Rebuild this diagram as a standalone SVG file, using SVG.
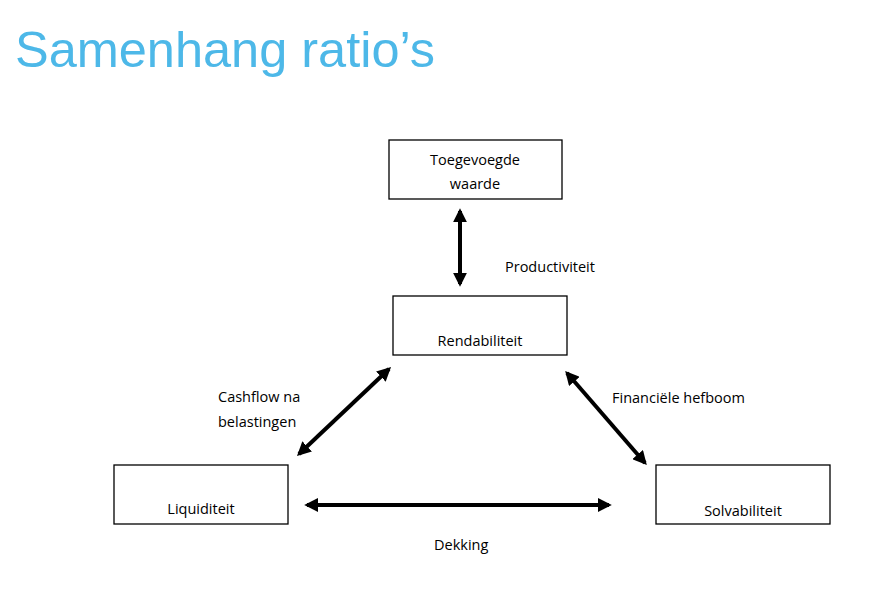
<svg xmlns="http://www.w3.org/2000/svg" width="880" height="598" viewBox="0 0 880 598">
<style>
.box{fill:#fff;stroke:#000;stroke-width:1.3}
.t{font-family:"Open Sans","Liberation Sans",sans-serif;font-size:14.5px;fill:#000}
.c{text-anchor:middle}
.ln{stroke:#000;stroke-width:4;fill:none;marker-start:url(#a);marker-end:url(#a)}
</style>
<defs>
<marker id="a" viewBox="0 0 10 10" refX="8" refY="5" markerWidth="3.5" markerHeight="3.5" orient="auto-start-reverse" markerUnits="strokeWidth">
<path d="M0,0 L10,5 L0,10 z" fill="#000"/>
</marker>
</defs>
<rect width="880" height="598" fill="#fff"/>
<text x="15" y="67" font-family="Liberation Sans,Arial,sans-serif" font-size="50" fill="#4db8e8" textLength="420" lengthAdjust="spacingAndGlyphs">Samenhang ratio’s</text>
<g id="toegevoegde"><rect class="box" x="389" y="140" width="173" height="59"/><text class="t c" x="475" y="165">Toegevoegde</text><text class="t c" x="475" y="189">waarde</text></g>
<g id="rendabiliteit"><rect class="box" x="393" y="296" width="174" height="59"/><text class="t c" x="480" y="346">Rendabiliteit</text></g>
<g id="liquiditeit"><rect class="box" x="114" y="465" width="174" height="59"/><text class="t c" x="201" y="514">Liquiditeit</text></g>
<g id="solvabiliteit"><rect class="box" x="656" y="465" width="174" height="59"/><text class="t c" x="743" y="516">Solvabiliteit</text></g>
<g id="connectors">
<line class="ln" x1="460" y1="211" x2="460" y2="284"/>
<line class="ln" x1="389" y1="369" x2="299" y2="454"/>
<line class="ln" x1="567" y1="373" x2="645" y2="463"/>
<line class="ln" x1="307" y1="505" x2="609" y2="505"/>
<text class="t" x="505" y="272">Productiviteit</text>
<text class="t" x="218" y="402">Cashflow na</text>
<text class="t" x="218" y="427">belastingen</text>
<text class="t" x="612" y="403">Financiële hefboom</text>
<text class="t" x="434" y="550">Dekking</text>
</g>
</svg>
